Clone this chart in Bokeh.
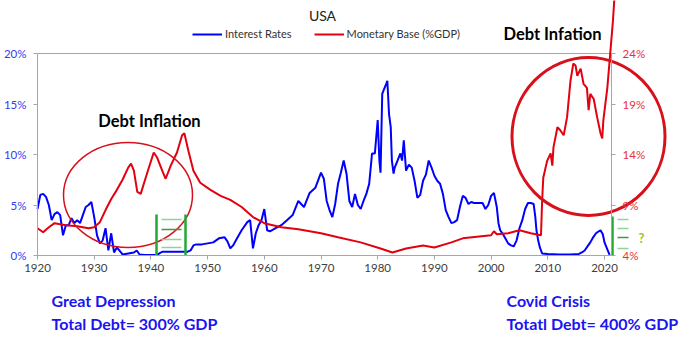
from bokeh.plotting import figure
from bokeh.models import (Range1d, LinearAxis, FixedTicker, PrintfTickFormatter,
                          Label, Legend, LegendItem)
from bokeh.embed import file_html
from bokeh.resources import INLINE

# ---------------- data ----------------
ir_years = [1920, 1920.5, 1921, 1921.5, 1922, 1922.5, 1923, 1923.5, 1924, 1924.5, 1925, 1925.5,
            1926, 1926.5, 1927, 1927.5, 1928, 1928.5, 1929, 1929.5, 1930, 1930.5, 1931, 1931.5,
            1932, 1932.5, 1933, 1933.5, 1934, 1935, 1936, 1937, 1937.5, 1938, 1939, 1940, 1941,
            1941.5, 1942, 1946.5, 1947, 1947.5, 1948, 1949, 1950, 1951, 1952, 1953, 1953.5, 1954,
            1954.5, 1955, 1956, 1957, 1957.5, 1958, 1958.5, 1959, 1959.5, 1960, 1960.5, 1961, 1962,
            1963, 1964, 1965, 1966, 1967, 1968, 1969, 1970, 1970.5, 1971, 1971.5, 1972, 1972.5,
            1973, 1973.5, 1974, 1974.5, 1975, 1975.5, 1976, 1976.5, 1977, 1977.5, 1978, 1978.5,
            1979, 1979.5, 1980, 1980.3, 1980.5, 1980.8, 1981, 1981.5, 1981.7, 1982, 1982.3, 1982.5,
            1982.8, 1983, 1983.5, 1984, 1984.3, 1984.6, 1985, 1985.5, 1986, 1986.5, 1987, 1987.5,
            1988, 1988.5, 1989, 1989.5, 1990, 1990.5, 1991, 1991.5, 1992, 1992.5, 1993, 1993.5,
            1994, 1994.5, 1995, 1995.5, 1996, 1996.5, 1997, 1998, 1998.5, 1999, 1999.5, 2000,
            2000.5, 2001, 2001.3, 2001.6, 2002, 2002.5, 2003, 2003.5, 2004, 2004.5, 2005, 2005.5,
            2006, 2006.5, 2007, 2007.5, 2007.8, 2008, 2008.3, 2008.6, 2009, 2010, 2012, 2014,
            2015.5, 2016, 2016.5, 2017, 2017.5, 2018, 2018.5, 2019, 2019.3, 2019.7, 2020, 2020.5,
            2020.9]
interest_rates = [4.6, 6.0, 6.1, 5.8, 5.0, 3.5, 4.1, 4.3, 4.0, 2.0, 3.0, 3.0,
                  3.7, 3.2, 3.5, 3.2, 4.0, 4.8, 5.0, 5.3, 3.8, 2.0, 1.2, 1.5,
                  2.7, 0.5, 2.2, 0.3, 0.8, 0.1, 0.2, 0.3, 0.5, 0.1, 0.05, 0.05, 0.05,
                  0.2, 0.37, 0.38, 0.5, 1.0, 1.1, 1.1, 1.2, 1.3, 1.7, 1.8, 1.4, 0.7,
                  1.0, 1.5, 2.5, 3.3, 3.5, 0.7, 2.2, 3.0, 3.5, 4.6, 2.5, 2.4, 2.7,
                  3.0, 3.5, 4.0, 5.4, 4.8, 6.2, 6.7, 8.2, 7.6, 5.4, 4.5, 3.8, 5.1,
                  7.1, 8.2, 9.4, 8.1, 5.4, 4.8, 6.1, 5.0, 4.6, 5.4, 6.1, 7.1,
                  10.1, 10.1, 13.4, 9.4, 8.2, 16.0, 16.3, 17.0, 17.3, 14.0, 12.7, 9.4,
                  8.1, 8.7, 9.4, 10.1, 9.4, 11.4, 8.4, 9.0, 8.7, 7.4, 5.7, 6.0,
                  7.4, 8.0, 9.4, 8.7, 7.9, 7.4, 7.1, 6.1, 4.5, 3.8, 3.2, 3.3,
                  3.5, 4.8, 5.9, 5.7, 5.1, 5.3, 5.2, 5.2, 5.2, 4.6, 5.0, 5.9,
                  6.2, 4.8, 3.2, 2.5, 2.2, 1.7, 1.2, 1.0, 0.9, 1.5, 2.7, 3.5,
                  4.6, 5.2, 5.2, 5.1, 3.8, 2.5, 1.5, 0.8, 0.2, 0.15, 0.1, 0.1,
                  0.15, 0.3, 0.5, 0.9, 1.3, 1.8, 2.2, 2.4, 2.5, 2.1, 1.3, 0.6,
                  0.05]

mb_years = [1920, 1921, 1922, 1923, 1925, 1927, 1929, 1930, 1931, 1932, 1933, 1934, 1935,
            1936, 1936.5, 1937, 1937.6, 1938.2, 1939.3, 1940.5, 1941.1, 1942, 1942.6, 1943.5,
            1944.6, 1945.5, 1945.9, 1946.6, 1947.5, 1948.7, 1950.5, 1952.3, 1954, 1956, 1958,
            1960, 1963, 1966, 1970, 1973, 1977, 1980.5, 1982.6, 1985, 1988, 1990, 1993, 1995,
            2000, 2000.5, 2001, 2003, 2005, 2007, 2008.8, 2009.0, 2009.2, 2009.9, 2010.5, 2010.8,
            2011.0, 2011.7, 2012.2, 2012.8, 2013.4, 2014.0, 2014.5, 2014.9, 2015.2, 2015.8,
            2016.3, 2016.9, 2017.2, 2017.5, 2018.1, 2018.7, 2019.3, 2019.6, 2019.8, 2020.5,
            2021.1, 2021.5, 2021.8]
monetary_base = [6.7, 6.3, 6.8, 7.2, 7.0, 6.9, 6.7, 6.8, 7.3, 8.5, 9.6, 10.5, 11.5,
                 12.7, 13.1, 12.4, 10.3, 10.1, 12.1, 14.2, 13.7, 12.4, 11.6, 12.9,
                 14.2, 15.9, 16.1, 14.4, 12.4, 11.2, 10.5, 9.9, 9.5, 8.8, 7.8,
                 7.2, 6.8, 6.6, 6.2, 5.8, 5.3, 4.7, 4.3, 4.7, 5.0, 4.8, 5.3, 5.7,
                 6.0, 6.4, 6.1, 6.2, 6.5, 6.2, 6.0, 9.4, 11.7, 13.4, 14.1, 12.9,
                 14.7, 16.7, 16.4, 15.9, 17.7, 21.3, 23.0, 22.8, 21.8, 22.5,
                 21.0, 20.6, 18.4, 20.0, 19.5, 17.7, 16.1, 15.6, 17.4, 20.6,
                 24.6, 27.3, 30.0]

x_ticks = [1920, 1930, 1940, 1950, 1960, 1970, 1980, 1990, 2000, 2010, 2020]
left_ticks = [0, 5, 10, 15, 20]
right_ticks = [4, 9, 14, 19, 24]

# ---------------- geometry helpers ----------------
FL, FB = 37, 255          # x of 1920 / y of 0 % in px
PXY, PXP = 5.67, 10.1     # px per year, px per percent
X0 = 1920
XMAX_AX = 2021.25         # end of x axis
W, H = 700, 348

def xd(px):
    return X0 + (px - FL) / PXY

def yd(py):
    return (FB - py) / PXP

p = figure(width=W, height=H, output_backend="svg", toolbar_location=None,
           x_range=Range1d(xd(0), xd(W)), y_range=Range1d(yd(H), yd(0)),
           min_border_left=0, min_border_right=0, min_border_top=0,
           min_border_bottom=0, x_axis_type=None, y_axis_type=None)
p.extra_y_ranges = {"mb": Range1d(4 + yd(H), 4 + yd(0))}
p.outline_line_color = None
p.xgrid.visible = False
p.ygrid.visible = False
p.background_fill_color = "white"
p.border_fill_color = "white"

FONT = "Lato"
AX_COL = "#a6a6a6"

def style_axis(ax, color, standoff):
    ax.axis_line_color = AX_COL
    ax.major_tick_line_color = AX_COL
    ax.major_tick_in = 0
    ax.major_tick_out = 4
    ax.minor_tick_line_color = None
    ax.major_label_text_font = FONT
    ax.major_label_text_font_size = "11.5px"
    ax.major_label_text_color = color
    ax.major_label_standoff = standoff

# x axis (fixed at 0 %)
xa = LinearAxis(ticker=FixedTicker(ticks=x_ticks), bounds=(X0, XMAX_AX), fixed_location=0)
style_axis(xa, "#404040", 4)
p.add_layout(xa, "below")

# left axis (fixed at 1920)
ya = LinearAxis(ticker=FixedTicker(ticks=left_ticks), bounds=(0, 20), fixed_location=X0,
                formatter=PrintfTickFormatter(format="%d%%"))
style_axis(ya, "#3a3af0", 7)
p.add_layout(ya, "left")

# right axis (fixed at end of x axis)
ra = LinearAxis(y_range_name="mb", ticker=FixedTicker(ticks=right_ticks), bounds=(4, 24),
                formatter=PrintfTickFormatter(format="%d%%"), fixed_location=XMAX_AX)
style_axis(ra, "#e8303c", 7)
p.add_layout(ra, "right")

# top border line
p.segment(x0=[X0], y0=[20], x1=[XMAX_AX], y1=[20], line_color=AX_COL, line_width=1)

BLUE = "#0000ff"
RED = "#e3000f"

r_ir = p.line(ir_years, interest_rates, line_color=BLUE, line_width=2)
r_mb = p.line(mb_years, monetary_base, line_color=RED, line_width=2, y_range_name="mb")

# ellipses
p.ellipse(x=[xd(127.5)], y=[yd(194.5)], width=[129 / PXY], height=[105 / PXP],
          fill_color=None, line_color="#d8101c", line_width=1.5)
p.ellipse(x=[xd(588)], y=[yd(136)], width=[153 / PXY], height=[158 / PXP],
          fill_color=None, line_color="#d8101c", line_width=3)

# green markers
GREEN = "#22aa33"
LGREEN = "#8fd29a"
p.segment(x0=[xd(156), xd(185)], y0=[0, 0], x1=[xd(156), xd(185)], y1=[yd(214), yd(214)],
          line_color=GREEN, line_width=2.5)
hl_y = [219, 229, 239, 247]
hl_c = [LGREEN, "#3a9a45", LGREEN, LGREEN]
p.segment(x0=[xd(161)] * 4, x1=[xd(181)] * 4, y0=[yd(v) for v in hl_y], y1=[yd(v) for v in hl_y],
          line_color=hl_c, line_width=1.5)
p.segment(x0=[xd(612)], y0=[0], x1=[xd(612)], y1=[yd(216)], line_color=GREEN, line_width=2.5)
hr_y = [219, 228, 237, 248]
hr_c = [LGREEN, LGREEN, "#3a9a45", LGREEN]
p.segment(x0=[xd(617)] * 4, x1=[xd(628)] * 4, y0=[yd(v) for v in hr_y], y1=[yd(v) for v in hr_y],
          line_color=hr_c, line_width=1.5)

def lab(px, py, text, size, color="black", bold=False, align="left", baseline="middle"):
    p.add_layout(Label(x=xd(px), y=yd(py), text=text, text_font=FONT,
                       text_font_size=size, text_color=color,
                       text_font_style="bold" if bold else "normal",
                       text_align=align, text_baseline=baseline))

TXT_BLUE = "#1a14f0"
lab(322, 15, "USA", "14px", "#222222", align="center")
lab(149, 120, "Debt Inflation", "16.5px", "black", bold=True, align="center")
lab(552, 33, "Debt Infation", "16.5px", "black", bold=True, align="center")
lab(641, 237, "?", "13px", "#9cc424", bold=True, align="center")
lab(51, 300, "Great Depression", "16px", TXT_BLUE, bold=True, baseline="alphabetic")
lab(51, 323, "Total Debt= 300% GDP", "16px", TXT_BLUE, bold=True, baseline="alphabetic")
lab(506, 300, "Covid Crisis", "16px", TXT_BLUE, bold=True, baseline="alphabetic")
lab(506, 323, "Totatl Debt= 400% GDP", "16px", TXT_BLUE, bold=True, baseline="alphabetic")

legend = Legend(items=[LegendItem(label="Interest Rates", renderers=[r_ir]),
                       LegendItem(label="Monetary Base (%GDP)", renderers=[r_mb])],
                orientation="horizontal", location=(192, H - 33 - 7),
                glyph_width=30, glyph_height=12, label_standoff=3, spacing=22,
                padding=0, margin=0, border_line_color=None, background_fill_alpha=0,
                label_text_font=FONT, label_text_font_size="11px", label_text_color="#333333",
                label_height=12)
p.add_layout(legend, "center")

open("out.html", "w").write(file_html(p, INLINE))
